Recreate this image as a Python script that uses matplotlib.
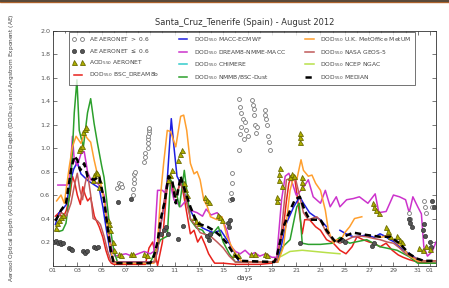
import numpy as np
import matplotlib
matplotlib.use("Agg")
import matplotlib.pyplot as plt
from matplotlib.lines import Line2D
from matplotlib.patches import Rectangle

nan = np.nan
# ---------------- data (days of August 2012; 32 = 1 September) ----------------
bsc_t = [1.2, 1.5, 1.8, 2.1, 2.4, 2.6, 2.8, 3.0, 3.25, 3.45, 3.65, 3.85, 4.1, 4.4, 4.8, 5.1, 5.35, 5.6, 5.8, 6.0, 7.0, 8.0,
         8.6, 8.9, 9.2, 9.6, 10.0, 10.3, 10.5, 10.7, 10.9, 11.1, 11.3, 11.5, 11.75, 12.0, 12.3, 12.6, 12.9, 13.2, 13.5, 13.8,
         14.1, 14.3, 15.0, 16.0, 17.0, 18.0, 19.0, 19.4, 19.7, 19.96, 20.2, 20.4, 20.6, 20.9, 21.2, 21.5, 21.7, 22.1, 22.6,
         23.0, 23.5, 24.06, 24.6, 25.1, 25.6, 26.0, 26.5, 27.0, 27.4, 27.9, 28.4, 28.9, 29.4, 29.8, 30.3, 31.0, 32.0, 32.5]
bsc_v = [0.42, 0.45, 0.40, 0.47, 0.60, 0.76, 0.70, 0.60, 0.52, 0.67, 0.60, 0.55, 0.58, 0.42, 0.33, 0.24, 0.13, 0.05, 0.02, 0.01, 0.01, 0.01,
         0.01, 0.15, 0.20, 0.00, 0.20, 0.58, 0.75, 0.72, 0.62, 0.58, 0.65, 0.72, 0.60, 0.45, 0.27, 0.30, 0.20, 0.25, 0.18, 0.10,
         0.05, 0.02, 0.02, 0.01, 0.01, 0.01, 0.02, 0.07, 0.20, 0.33, 0.55, 0.70, 0.76, 0.73, 0.50, 0.27, 0.39, 0.39, 0.33,
         0.30, 0.22, 0.19, 0.13, 0.10, 0.16, 0.245, 0.22, 0.20, 0.19, 0.16, 0.19, 0.13, 0.09, 0.07, 0.05, 0.03, 0.02, 0.02]

macc_t = [1.2, 1.5, 1.8, 2.1, 2.4, 2.7, 3.0, 3.3, 3.6, 3.9, 4.2, 4.5, 4.8, 5.1, 5.4, 5.7, 6.0, 9.3, 9.6, 9.85, 10.1, 10.4,
          10.73, 10.95, 11.2, 11.5, 11.75, 12.0, 12.3, 12.85, 13.3, 13.7, 14.2, 14.8, 15.3, 15.85, 16.3, 19.4, 19.7, 20.2,
          20.8, 21.3, 21.6, 22.1, 22.5, 23.0, 23.5, 24.0, 24.6, 25.1, 25.7, 26.3, 26.8, 27.4, 27.9, 28.3, 28.7, 29.1, 29.5,
          30.0, 30.3, 30.9, 31.5, 32.5]
macc_v = [0.35, 0.45, 0.48, 0.52, 0.70, 0.82, 0.88, 0.78, 0.75, 0.72, 0.70, 0.68, 0.66, 0.50, 0.30, 0.12, 0.03, 0.03, 0.12, 0.33, 0.50, 0.73,
          1.25, 1.01, 0.76, 0.70, 0.64, 0.55, 0.47, 0.36, 0.32, 0.30, 0.28, 0.30, 0.22, 0.13, 0.03, 0.03, 0.13, 0.36,
          0.50, 0.585, 0.53, 0.45, 0.42, 0.39, 0.33, nan, 0.30, 0.27, 0.245, 0.25, 0.26, 0.24, 0.27, 0.25, 0.22, 0.20, 0.16,
          0.12, 0.10, 0.06, 0.04, 0.04]

nmme_t = [1.4, 2.2, 2.35, 2.6, 2.75, 3.0, 3.3, 3.57, 3.84, 4.1, 4.66, 4.9, 5.2, 5.5, 5.8, 6.1, 6.5, 7.0, 7.5, 8.0, 8.5, 9.0,
          9.3, 9.6, 10.0, 10.2, 10.5, 10.95, 11.5, 12.0, 12.3, 12.85, 13.3, 13.6, 14.0, 14.5, 14.9, 15.3, 15.6, 16.0, 16.4,
          16.8, 17.2, 17.6, 18.0, 18.5, 19.0, 19.4, 19.8, 20.1, 20.4, 20.6, 21.0, 21.5, 22.0, 22.4, 23.0, 23.4, 23.8, 24.3,
          24.6, 25.15, 25.7, 26.2, 26.9, 27.5, 27.8, 28.4, 29.0, 29.5, 30.0, 30.3, 30.6, 31.0, 31.3, 31.5, 31.8, 32.2, 32.5]
nmme_v = [0.685, 0.685, 0.70, 1.10, 0.90, 0.85, 0.95, 0.97, 0.80, 0.73, 0.70, 0.67, 0.60, 0.35, 0.15, 0.08, 0.09, 0.10, 0.08, 0.10, 0.12, 0.10,
          0.12, 0.64, 0.64, 0.62, 0.76, 0.56, 0.50, 0.56, 0.47, 0.45, 0.42, 0.48, 0.43, 0.45, 0.40, 0.30, 0.17, 0.12, 0.10,
          0.13, 0.09, 0.11, 0.08, 0.10, 0.07, 0.07, 0.56, 0.76, 0.785, 0.73, 0.60, 0.65, 0.73, 0.585, 0.53, 0.64, 0.50, 0.585,
          0.50, 0.56, 0.57, 0.585, 0.53, 0.61, 0.45, 0.46, 0.60, 0.585, 0.56, 0.45, 0.585, 0.50, 0.44, 0.16, 0.08, 0.12, 0.20]

chimere_t = []
chimere_v = []

nmmb_t = [1.2, 1.5, 1.8, 2.07, 2.3, 2.48, 2.75, 2.97, 3.16, 3.5, 3.84, 4.1, 4.38, 4.66, 5.0, 5.2, 5.6, 6.0, 6.3, 7.0, 9.0,
          9.3, 9.85, 10.4, 10.67, 11.1, 11.4, 11.8, 12.3, 12.8, 13.3, 13.8, 14.2, 14.6, 15.0, 15.5, 16.0, 19.5, 19.9, 20.5,
          21.05, 21.25, 21.5, 22.0, 23.0, 24.0, 24.6, 25.4, 26.8, 27.9, 29.3, 30.3, 31.0, 32.5]
nmmb_v = [0.30, 0.29, 0.30, 0.36, 0.55, 0.73, 1.30, 1.58, 1.15, 1.01, 1.30, 1.42, 1.21, 1.04, 0.85, 0.75, 0.39, 0.13, 0.03, 0.02, 0.02,
          0.10, 0.22, 0.25, 0.73, 0.64, 0.50, 0.81, 0.39, 0.32, 0.30, 0.22, 0.28, 0.33, 0.20, 0.10, 0.03, 0.03, 0.16, 0.22,
          0.50, 0.53, 0.19, 0.18, 0.18, 0.19, 0.24, 0.19, 0.22, 0.16, 0.13, 0.075, 0.02, 0.02]

metum_t = [1.3, 1.66, 1.93, 2.34, 2.6, 2.9, 3.3, 3.57, 3.84, 4.1, 4.38, 4.6, 4.8, 5.2, 5.5, 5.8, 6.1, 9.3, 9.6, 9.85, 10.1,
           10.4, 10.67, 11.1, 11.5, 11.75, 12.0, 12.3, 12.6, 12.85, 13.1, 13.4, 13.7, 13.95, 14.5, 14.9, 15.3, 15.7, 16.2, 16.6,
           19.5, 19.96, 20.5, 20.8, 21.05, 21.4, 21.6, 22.0, 22.3, 22.6, 23.0, 23.4, 23.65, 24.06, 24.3, 24.7, 25.0, 25.4,
           25.8, 26.4, 26.6, 27.5, 28.0, 28.6, 29.2, 29.8, 30.3, 31.0, 32.5]
metum_v = [0.55, 0.60, 0.53, 0.84, 1.01, 1.10, 1.04, 1.12, 1.08, 1.05, 0.90, 0.80, 0.76, 0.56, 0.30, 0.10, 0.02, 0.02, 0.19, 0.60, 0.87,
           1.15, 1.14, 1.01, 1.27, 1.28, 1.15, 0.87, 0.78, 0.80, 0.73, 0.56, 0.50, 0.415, 0.39, 0.415, 0.25, 0.16, 0.07, 0.03,
           0.03, 0.16, 0.64, 0.76, 0.73, 0.90, 0.81, 0.76, 0.77, 0.70, 0.64, 0.47, 0.30, 0.19, 0.22, 0.22, 0.28, 0.33,
           0.40, 0.415, nan, 0.25, 0.24, 0.26, 0.20, 0.15, 0.08, 0.04, 0.04]

geos_t = [1.3, 1.7, 2.1, 2.48, 2.8, 3.0, 3.2, 3.43, 3.65, 3.84, 4.1, 4.3, 4.66, 4.9, 5.2, 5.5, 5.8, 9.4, 9.7, 10.0, 10.3,
          10.5, 10.8, 11.1, 11.5, 11.8, 12.3, 12.8, 13.1, 13.95, 14.5, 15.0, 15.5, 16.0, 19.4, 19.8, 20.2, 20.5, 20.9, 21.3,
          21.6, 22.0, 22.7, 23.0, 23.5, 24.0, 24.6, 25.2, 25.7, 26.3, 26.8, 27.4, 27.9, 28.5, 29.0, 29.5, 30.0, 30.9, 31.5, 32.5]
geos_v = [0.40, 0.45, 0.42, 0.53, 0.70, 0.785, 0.65, 0.56, 0.70, 0.785, 0.60, 0.40, 0.38, 0.35, 0.25, 0.12, 0.03, 0.03, 0.20, 0.45, 0.65,
          0.73, 0.68, 0.60, 0.70, 0.62, 0.40, 0.33, 0.28, 0.25, 0.20, 0.15, 0.08, 0.03, 0.03, 0.30, 0.73, 0.74, 0.76, 0.585,
          0.45, 0.39, 0.415, 0.38, 0.28, 0.22, 0.19, 0.22, 0.245, 0.25, 0.245, 0.23, 0.22, 0.20, 0.19, 0.15, 0.10, 0.06, 0.04, 0.04]

ngac_t = [19.8, 20.5, 21.5, 22.5, 23.5, 24.6]
ngac_v = [0.08, 0.12, 0.13, 0.12, 0.11, 0.10]

median_t = [1.2, 1.66, 2.07, 2.48, 2.75, 3.0, 3.24, 3.57, 3.84, 4.1, 4.4, 4.8, 5.2, 5.48, 5.75, 6.0, 9.0, 9.3, 9.6, 9.85,
            10.2, 10.5, 10.8, 11.1, 11.5, 11.75, 12.3, 12.85, 13.7, 14.2, 14.8, 15.3, 15.85, 16.4, 19.2, 19.4, 19.96, 20.5,
            20.9, 21.3, 21.7, 22.1, 23.0, 23.5, 24.3, 24.9, 25.7, 26.8, 27.9, 28.7, 29.5, 30.3, 30.9, 31.5, 32.5]
median_v = [0.38, 0.47, 0.53, 0.81, 0.93, 0.90, 0.81, 0.87, 0.76, 0.74, 0.73, 0.76, 0.56, 0.33, 0.13, 0.02, 0.02, 0.08, 0.20, 0.39,
            0.55, 0.76, 0.73, 0.53, 0.76, 0.67, 0.50, 0.36, 0.33, 0.30, 0.25, 0.19, 0.10, 0.04, 0.03, 0.075, 0.33, 0.47,
            0.56, 0.585, 0.47, 0.39, 0.39, 0.30, 0.19, 0.245, 0.28, 0.26, 0.245, 0.245, 0.19, 0.10, 0.06, 0.04, 0.04]

ae_hi_t = [6.3, 6.4, 6.5, 6.6, 6.7, 7.6, 7.6, 7.65, 7.7, 7.7, 7.75, 8.5, 8.55, 8.6, 8.8, 8.8, 8.85, 8.85, 8.9, 8.9, 8.9,
           15.6, 15.65, 15.7, 15.7, 16.3, 16.35, 16.5, 16.6, 16.5, 16.4, 16.7, 16.3, 16.8, 16.9, 17.0,
           17.4, 17.45, 17.5, 17.55, 17.6, 17.7, 17.75, 18.4, 18.45, 18.5, 18.6, 18.7, 18.8, 18.85,
           30.3, 30.35, 31.5, 31.6, 31.7, 32.2]
ae_hi_v = [0.66, 0.70, 0.68, 0.69, 0.67, 0.60, 0.65, 0.70, 0.74, 0.78, 0.80, 0.88, 0.92, 0.96, 1.00, 1.04, 1.08, 1.10, 1.13, 1.15, 1.17,
           0.56, 0.62, 0.70, 0.79, 1.42, 1.35, 1.30, 1.25, 1.18, 1.12, 1.08, 0.98, 1.22, 1.15, 1.10,
           1.41, 1.37, 1.33, 1.28, 1.20, 1.13, 1.18, 1.32, 1.28, 1.25, 1.20, 1.10, 1.05, 0.98,
           0.45, 0.40, 0.55, 0.50, 0.45, 0.50]

ae_lo_t = [1.1, 1.25, 1.4, 1.55, 1.7, 1.85, 2.3, 2.45, 2.6, 3.5, 3.65, 3.8, 4.4, 4.55, 4.7, 6.35, 7.45, 9.9, 10.1, 10.3, 10.5,
           11.3, 11.7, 13.7, 13.8, 13.9, 15.4, 15.5, 15.6, 15.7, 21.3, 24.8, 25.0, 27.2, 27.4, 30.3, 30.4, 30.5,
           31.4, 31.5, 31.6, 32.0, 32.1, 32.2, 32.3]
ae_lo_v = [0.20, 0.21, 0.19, 0.20, 0.18, 0.19, 0.15, 0.14, 0.13, 0.12, 0.11, 0.12, 0.16, 0.15, 0.16, 0.54, 0.57, 0.27, 0.30, 0.33, 0.27,
           0.23, 0.34, 0.25, 0.22, 0.27, 0.36, 0.33, 0.39, 0.57, 0.19, 0.22, 0.20, 0.17, 0.19, 0.40, 0.36, 0.33,
           0.30, 0.35, 0.25, 0.20, 0.16, 0.55, 0.50]

aod_t = [1.25, 1.35, 1.5, 1.7, 1.85, 3.1, 3.2, 3.35, 3.5, 3.6, 3.75, 4.3, 4.4, 4.5, 4.6, 4.8, 4.75, 5.5, 5.6, 5.7, 5.9, 6.0,
         6.4, 6.6, 7.4, 7.6, 8.5, 8.7, 10.5, 10.6, 10.8, 11.3, 11.45, 11.6, 11.75, 11.85, 12.0, 12.6, 12.8, 13.0, 13.5, 13.65,
         13.8, 14.6, 14.75, 14.9, 15.9, 16.2, 17.3, 17.6, 18.4, 18.6, 19.4, 19.45, 19.55, 19.6, 19.65, 19.8, 20.5, 20.65, 20.8,
         21.3, 21.3, 21.3, 21.5, 21.5, 21.5, 27.3, 27.4, 27.6, 27.8, 28.4, 28.55, 28.7, 29.3, 29.5, 29.7, 31.1, 31.4, 31.7, 32.0]
aod_v = [0.32, 0.36, 0.39, 0.41, 0.43, 0.98, 1.00, 1.02, 1.14, 1.16, 1.18, 0.73, 0.77, 0.80, 0.79, 0.73, 0.67, 0.39, 0.35, 0.30, 0.20, 0.13,
         0.10, 0.09, 0.10, 0.10, 0.10, 0.09, 0.73, 0.77, 0.81, 0.90, 0.95, 0.98, 0.70, 0.65, 0.60, 0.41, 0.38, 0.36, 0.58, 0.56,
         0.54, 0.43, 0.41, 0.39, 0.10, 0.09, 0.10, 0.10, 0.10, 0.09, 0.55, 0.58, 0.73, 0.78, 0.83, 0.68, 0.75, 0.78, 0.76,
         1.05, 1.09, 1.13, 0.67, 0.71, 0.75, 0.53, 0.50, 0.47, 0.45, 0.33, 0.29, 0.25, 0.25, 0.22, 0.20, 0.15, 0.13, 0.17, 0.14]

xtick_pos = [1, 3, 5, 7, 9, 11, 13, 15, 17, 19, 21, 23, 25, 27, 29, 31, 32]
xtick_lab = ["01", "03", "05", "07", "09", "11", "13", "15", "17", "19", "21", "23", "25", "27", "29", "31", "01"]

# ---------------- figure ----------------
fig = plt.figure(figsize=(4.49, 2.88), dpi=100)
ax = fig.add_axes([0.118, 0.078, 0.853, 0.816])

lw = 1.1
ax.plot(bsc_t, bsc_v, color='#e8221c', lw=lw, zorder=2)
ax.plot(macc_t, macc_v, color='#1f1fe0', lw=lw, zorder=2)
ax.plot(nmme_t, nmme_v, color='#cc33cc', lw=lw, zorder=2)
ax.plot(chimere_t, chimere_v, color='#33cccc', lw=lw, zorder=2)
ax.plot(nmmb_t, nmmb_v, color='#2ca02c', lw=lw, zorder=2)
ax.plot(metum_t, metum_v, color='#ff9f2e', lw=lw, zorder=2)
ax.plot(geos_t, geos_v, color='#c05a5a', lw=lw, zorder=2)
ax.plot(ngac_t, ngac_v, color='#b8e04a', lw=lw, zorder=2)

ax.plot(ae_hi_t, ae_hi_v, 'o', ms=2.8, mfc='white', mec='#777777', mew=0.6, zorder=3)
ax.plot(ae_lo_t, ae_lo_v, 'o', ms=3.0, mfc='#555555', mec='#333333', mew=0.5, zorder=3)
ax.plot(aod_t, aod_v, '^', ms=3.6, mfc='#b0b000', mec='#6b6b00', mew=0.6, zorder=3)
ax.plot(median_t, median_v, color='black', lw=1.8, ls=(0, (2.5, 1.5)), zorder=4)

ax.set_xlim(1, 32.5)
ax.set_ylim(0, 2.0)
ax.set_xticks(xtick_pos)
ax.set_xticklabels(xtick_lab)
ax.set_xticks(np.arange(1, 33, 1), minor=True)
ax.set_yticks(np.arange(0.2, 2.01, 0.2))
ax.set_yticklabels(["%.1f" % v for v in np.arange(0.2, 2.01, 0.2)])
ax.tick_params(which='both', direction='in', top=True, right=True, labelsize=4.6,
               labelcolor='#555555', color='#444444', width=0.5, pad=2)
ax.tick_params(which='major', length=3)
ax.tick_params(which='minor', length=1.5)
for s in ax.spines.values():
    s.set_linewidth(0.6)
    s.set_color('#333333')

ax.set_xlabel('days', fontsize=5, color='#444444', labelpad=1)
ax.set_ylabel('Aerosol Optical Depth (AOD$_{550}$), Dust Optical Depth (DOD$_{550}$) and Angstrom Exponent (AE)',
              fontsize=4.2, color='#444444', labelpad=17)
ax.set_title('Santa_Cruz_Tenerife (Spain) - August 2012', fontsize=6, color='#333333', pad=4)

handles = [
    Line2D([], [], ls='none', marker='o', ms=2.8, mfc='white', mec='#777777', mew=0.6),
    Line2D([], [], ls='none', marker='o', ms=3.0, mfc='#555555', mec='#333333', mew=0.5),
    Line2D([], [], ls='none', marker='^', ms=3.6, mfc='#b0b000', mec='#6b6b00', mew=0.6),
    Line2D([], [], color='#e8221c', lw=lw),
    Line2D([], [], color='#1f1fe0', lw=lw),
    Line2D([], [], color='#cc33cc', lw=lw),
    Line2D([], [], color='#33cccc', lw=lw),
    Line2D([], [], color='#2ca02c', lw=lw),
    Line2D([], [], color='#ff9f2e', lw=lw),
    Line2D([], [], color='#c05a5a', lw=lw),
    Line2D([], [], color='#b8e04a', lw=lw),
    Line2D([], [], color='black', lw=1.8, ls=(0, (2.5, 1.5))),
]
labels = ['AE AERONET $>$ 0.6', 'AE AERONET $\\leq$ 0.6', 'AOD$_{550}$ AERONET', 'DOD$_{550}$ BSC_DREAM8b',
          'DOD$_{550}$ MACC-ECMWF', 'DOD$_{550}$ DREAM8-NMME-MACC', 'DOD$_{550}$ CHIMERE', 'DOD$_{550}$ NMMB/BSC-Dust',
          'DOD$_{550}$ U.K. MetOffice MetUM', 'DOD$_{550}$ NASA GEOS-5', 'DOD$_{550}$ NCEP NGAC', 'DOD$_{550}$ MEDIAN']
leg = ax.legend(handles, labels, loc='upper center', ncol=3, numpoints=2, fontsize=4.3, frameon=True,
                fancybox=False, borderaxespad=0.3, handlelength=2.0, columnspacing=3.0, labelspacing=0.6,
                borderpad=0.5, bbox_to_anchor=(0.493, 1.0))
leg.get_frame().set_edgecolor('#333333')
leg.get_frame().set_linewidth(0.6)
for t in leg.get_texts():
    t.set_color('#444444')

# thin coloured band along the top edge of the picture
fig.patches.append(Rectangle((0, 0.993), 1, 0.007, transform=fig.transFigure, color='#c06a2a', zorder=0))
fig.patches.append(Rectangle((0, 0.997), 1, 0.003, transform=fig.transFigure, color='#5a4a3a', zorder=0))

fig.savefig('out.png', dpi=100)
